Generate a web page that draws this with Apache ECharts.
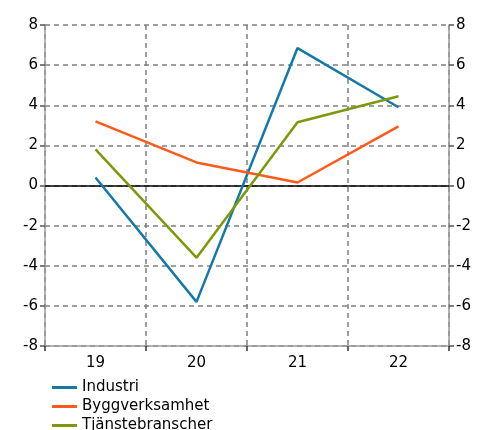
<!DOCTYPE html>
<html>
<head>
<meta charset="utf-8">
<script src="https://cdn.jsdelivr.net/npm/echarts@6/dist/echarts.min.js"></script>
<style>
  html, body { margin: 0; padding: 0; background: #fff; }
  #chart { width: 489px; height: 430px; }
</style>
</head>
<body>
<div id="chart"></div>
<script>
// Years (two-digit) along the x axis
const years = ['19', '20', '21', '22'];

// Series names and values per year
const seriesNames = ['Industri', 'Byggverksamhet', 'Tjänstebranscher'];
const industri = [0.4, -5.8, 6.85, 3.9];
const byggverksamhet = [3.2, 1.15, 0.15, 2.95];
const tjanstebranscher = [1.8, -3.6, 3.15, 4.45];

// Y axis range and step
const yMin = -8;
const yMax = 8;
const yStep = 2;

const FONT = 'DejaVu Sans';
const gridLine = { show: true, lineStyle: { color: '#808080', type: [5, 4], width: 1.5 } };

function yAxisDef(position) {
  return {
    type: 'value',
    position: position,
    min: yMin, max: yMax, interval: yStep,
    axisLine: { show: true, onZero: false, lineStyle: { color: '#999', width: 1.5 } },
    axisTick: { show: true, length: 5, lineStyle: { color: '#555', width: 1.5 } },
    axisLabel: { color: '#000', fontFamily: FONT, fontSize: 15, margin: 7 },
    splitLine: position === 'left' ? gridLine : { show: false }
  };
}

function lineSeries(name, data, color) {
  return {
    name: name, type: 'line', data: data,
    symbol: 'none', lineStyle: { color: color, width: 2.5 }, itemStyle: { color: color },
    z: 3
  };
}

// One legend row per series, stacked below the plot
function legendRow(name, i) {
  return {
    orient: 'vertical',
    left: 52, top: 380 + i * 19,
    itemWidth: 25, itemHeight: 3,
    icon: 'rect',
    padding: 0,
    textStyle: { color: '#000', fontFamily: FONT, fontSize: 15 },
    data: [name]
  };
}

const chart = echarts.init(document.getElementById('chart'), null, { renderer: 'canvas' });
chart.setOption({
  animation: false,
  backgroundColor: '#fff',
  grid: { left: 45, right: 40, top: 25, bottom: 84, containLabel: false },
  xAxis: {
    type: 'category',
    data: years,
    boundaryGap: true,
    axisLine: { show: true, onZero: false, lineStyle: { color: '#999', width: 1.5 } },
    axisTick: { show: true, length: 5, lineStyle: { color: '#333', width: 1.5 } },
    axisLabel: { color: '#000', fontFamily: FONT, fontSize: 15, margin: 10 },
    splitLine: gridLine
  },
  yAxis: [yAxisDef('left'), yAxisDef('right')],
  legend: seriesNames.map(legendRow),
  series: [
    lineSeries(seriesNames[0], industri, '#1479a6'),
    lineSeries(seriesNames[1], byggverksamhet, '#ff5a19'),
    Object.assign(lineSeries(seriesNames[2], tjanstebranscher, '#7b9a0a'), {
      markLine: {
        silent: true, symbol: 'none', label: { show: false },
        lineStyle: { color: '#000', type: 'solid', width: 1.5 },
        data: [{ yAxis: 0 }], z: 2
      }
    })
  ]
});
</script>
</body>
</html>
